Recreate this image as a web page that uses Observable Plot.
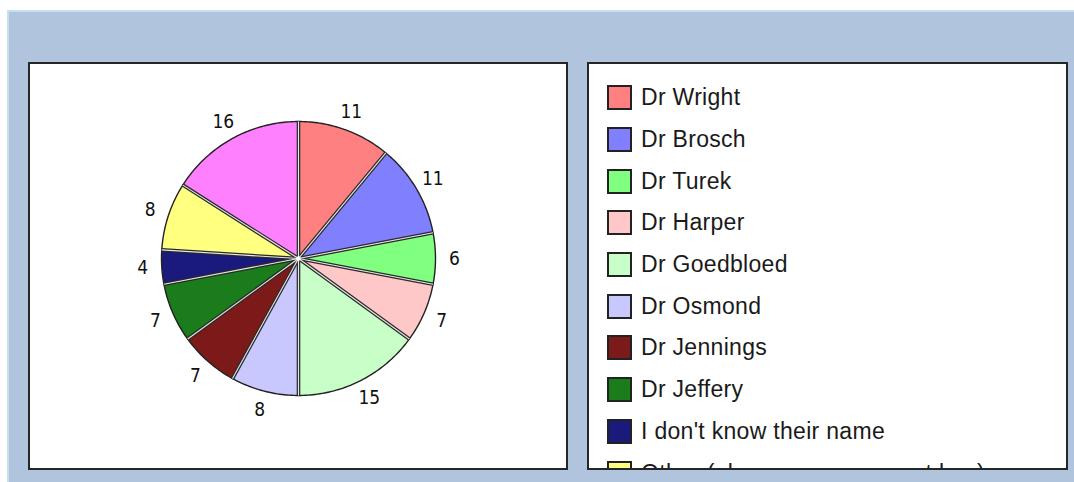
<!DOCTYPE html>
<html><head><meta charset="utf-8">
<script src="https://cdn.jsdelivr.net/npm/d3@7"></script>
<script src="https://cdn.jsdelivr.net/npm/@observablehq/plot@0.6"></script>
<style>
html,body{margin:0;padding:0;background:#fff;width:1074px;height:482px;overflow:hidden;font-family:"Liberation Sans",Arial,sans-serif;}
#frame{position:absolute;left:7px;top:10px;width:1067px;height:472px;background:#B0C4DE;border-top:2px solid #C4E2EE;border-left:2px solid #C4E2EE;box-sizing:border-box;}
.panel{position:absolute;background:#fff;border:2px solid #262626;box-sizing:border-box;overflow:hidden;}
#pie{left:28px;top:62px;width:540px;height:408px;}
#legend{left:587px;top:62px;width:481px;height:408px;padding-top:13px;}
.row{height:41.7px;display:flex;align-items:center;}
.sw{margin-left:18px;width:25px;height:25px;box-sizing:border-box;border:2px solid #222;flex:none;}
.lab{margin-left:9px;font-size:23px;letter-spacing:0.3px;color:#1a1a1a;white-space:nowrap;}
#pie svg{display:block;}
</style></head>
<body>
<div id="frame"></div>
<div class="panel" id="pie"></div>
<div class="panel" id="legend"></div>
<script>
// ---- data ----
const names = ["Dr Wright","Dr Brosch","Dr Turek","Dr Harper","Dr Goedbloed","Dr Osmond","Dr Jennings","Dr Jeffery","I don't know their name","Other (please use comment box)","Unnamed category"];
const values = [11,11,6,7,15,8,7,7,4,8,16];
const colors = ["#FF8080","#8080FF","#80FF80","#FFC8C8","#C8FFC8","#C8C8FF","#7C1A1A","#1A7C1A","#1A1A7C","#FFFF80","#FF80FF"];

// ---- layout ----
const W = 536, H = 404, R = 137, cx = 268, cy = 194, labelR = 156;

const total = d3.sum(values);
let cum = 0;
const slices = values.map((v, i) => {
  const a0 = cum / total * 2 * Math.PI; cum += v;
  const a1 = cum / total * 2 * Math.PI;
  return {name: names[i], value: v, a0, a1};
});
const outline = [];
for (const s of slices) {
  outline.push({name: s.name, x: 0, y: 0});
  const n = Math.max(2, Math.ceil((s.a1 - s.a0) / (Math.PI / 180)));
  for (let k = 0; k <= n; k++) {
    const a = s.a0 + (s.a1 - s.a0) * k / n;
    outline.push({name: s.name, x: Math.sin(a), y: Math.cos(a)});
  }
  outline.push({name: s.name, x: 0, y: 0});
}
const seps = slices.map(s => ({x1: 0, y1: 0, x2: Math.sin(s.a0), y2: Math.cos(s.a0)}));
const lr = labelR / R;
const labels = slices.map(s => {
  const m = (s.a0 + s.a1) / 2;
  return {x: lr * Math.sin(m), y: lr * Math.cos(m), text: String(s.value)};
});

const chart = Plot.plot({
  width: W, height: H, margin: 0,
  x: {domain: [-cx / R, (W - cx) / R], axis: null},
  y: {domain: [-(H - cy) / R, cy / R], axis: null},
  color: {domain: names, range: colors},
  style: {background: "white"},
  marks: [
    Plot.line(outline, {x: "x", y: "y", z: "name", fill: "name", stroke: "#222", strokeWidth: 1.4, strokeLinejoin: "round"}),
    Plot.link(seps, {x1: "x1", y1: "y1", x2: "x2", y2: "y2", stroke: "#2a2a2a", strokeWidth: 3.6, strokeOpacity: 1}),
    Plot.link(seps, {x1: "x1", y1: "y1", x2: "x2", y2: "y2", stroke: "#e8e8e8", strokeWidth: 1.1, strokeOpacity: 1}),
    Plot.dot([{x: 0, y: 0}], {x: "x", y: "y", r: 2.2, fill: "white"}),
    Plot.text(labels, {x: "x", y: "y", text: "text", fontSize: 19, fontFamily: "DejaVu Sans Condensed, DejaVu Sans", fill: "#111"})
  ]
});
document.getElementById("pie").appendChild(chart);

const leg = document.getElementById("legend");
const rowH = 41.7, visibleH = 404 - 13;
names.forEach((n, i) => {
  if (i * rowH > visibleH) return; // rows below the panel's bottom edge are not drawn
  const row = document.createElement("div"); row.className = "row";
  const sw = document.createElement("div"); sw.className = "sw"; sw.style.background = colors[i];
  const lab = document.createElement("div"); lab.className = "lab"; lab.textContent = n;
  row.appendChild(sw); row.appendChild(lab); leg.appendChild(row);
});
</script>
</body></html>
